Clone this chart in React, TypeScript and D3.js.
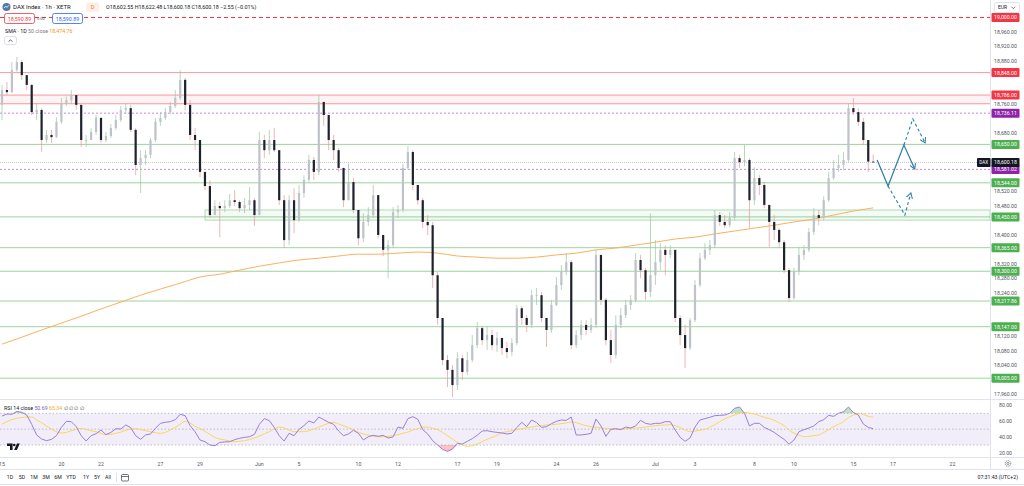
import * as d3 from "d3";

// ---- data (4 bars per trading day, open = previous close) ----
const firstOpen = 18759;

const closes = [
  18800, 18794, 18855, 18877, 18841, 18814, 18739, 18745, 18662, 18676, 18670, 18712,
  18764, 18772, 18786, 18759, 18662, 18662, 18684, 18723, 18662, 18673, 18695, 18717,
  18745, 18750, 18690, 18593, 18612, 18621, 18662, 18712, 18723, 18739, 18756, 18778,
  18828, 18759, 18676, 18662, 18574, 18535, 18455, 18480, 18474, 18480, 18496, 18491,
  18474, 18483, 18496, 18455, 18662, 18634, 18662, 18634, 18496, 18386, 18496, 18441,
  18516, 18552, 18607, 18574, 18767, 18731, 18662, 18634, 18585, 18496, 18546, 18469,
  18391, 18436, 18455, 18510, 18400, 18359, 18372, 18463, 18469, 18585, 18629, 18538,
  18496, 18436, 18427, 18289, 18171, 18055, 18028, 17986, 18060, 18022, 18055, 18096,
  18143, 18110, 18124, 18096, 18116, 18088, 18077, 18102, 18198, 18171, 18152, 18234,
  18234, 18171, 18138, 18207, 18262, 18298, 18325, 18096, 18124, 18152, 18138, 18152,
  18345, 18221, 18110, 18069, 18152, 18179, 18207, 18221, 18331, 18303, 18243, 18289,
  18325, 18359, 18345, 18359, 18171, 18124, 18088, 18165, 18262, 18336, 18359, 18372,
  18455, 18436, 18427, 18447, 18612, 18601, 18607, 18496, 18557, 18538, 18483, 18436,
  18414, 18380, 18303, 18226, 18298, 18345, 18359, 18408, 18455, 18447, 18496, 18557,
  18585, 18593, 18607, 18750, 18739, 18712, 18662, 18602.55, 18600.18,
];

const highs = [
  18814, 18822, 18877, 18891, 18883, 18841, 18816, 18764, 18750, 18690, 18690, 18725,
  18778, 18783, 18800, 18786, 18759, 18676, 18695, 18731, 18725, 18684, 18706, 18731,
  18756, 18764, 18759, 18695, 18634, 18634, 18668, 18723, 18739, 18750, 18767, 18800,
  18855, 18833, 18772, 18695, 18662, 18574, 18552, 18496, 18491, 18496, 18513, 18524,
  18496, 18502, 18532, 18502, 18684, 18676, 18690, 18695, 18634, 18510, 18510, 18529,
  18538, 18565, 18621, 18615, 18786, 18759, 18723, 18676, 18640, 18585, 18598, 18557,
  18455, 18460, 18477, 18538, 18510, 18400, 18386, 18477, 18483, 18596, 18645, 18634,
  18538, 18502, 18455, 18436, 18298, 18171, 18069, 18041, 18077, 18069, 18077, 18124,
  18160, 18149, 18146, 18138, 18132, 18116, 18105, 18116, 18207, 18204, 18179, 18248,
  18254, 18243, 18171, 18221, 18284, 18317, 18350, 18331, 18138, 18165, 18165, 18171,
  18359, 18345, 18226, 18138, 18179, 18198, 18221, 18234, 18350, 18345, 18309, 18460,
  18386, 18378, 18372, 18372, 18359, 18179, 18152, 18171, 18276, 18350, 18378, 18386,
  18469, 18463, 18455, 18463, 18629, 18621, 18648, 18612, 18587, 18565, 18546, 18483,
  18455, 18419, 18386, 18309, 18309, 18367, 18372, 18419, 18474, 18469, 18507, 18574,
  18607, 18621, 18629, 18764, 18778, 18750, 18723, 18662, 18622.48,
];

const lows = [
  18717, 18786, 18792, 18850, 18828, 18800, 18731, 18717, 18629, 18654, 18654, 18668,
  18706, 18756, 18761, 18745, 18643, 18643, 18662, 18676, 18654, 18656, 18668, 18690,
  18712, 18734, 18684, 18565, 18516, 18593, 18612, 18656, 18701, 18717, 18734, 18750,
  18772, 18745, 18662, 18634, 18560, 18524, 18447, 18455, 18394, 18463, 18474, 18480,
  18463, 18460, 18469, 18425, 18455, 18612, 18621, 18629, 18483, 18364, 18372, 18405,
  18436, 18502, 18546, 18552, 18565, 18701, 18634, 18607, 18574, 18477, 18496, 18460,
  18372, 18380, 18425, 18447, 18391, 18342, 18281, 18364, 18447, 18463, 18579, 18524,
  18483, 18419, 18400, 18254, 18152, 18041, 17980, 17953, 17972, 18000, 18014, 18049,
  18088, 18096, 18083, 18083, 18077, 18069, 18060, 18066, 18096, 18152, 18132, 18143,
  18207, 18160, 18091, 18130, 18204, 18248, 18289, 18085, 18088, 18110, 18124, 18130,
  18143, 18207, 18096, 18047, 18060, 18143, 18171, 18193, 18215, 18281, 18221, 18229,
  18262, 18303, 18289, 18336, 18160, 18096, 18033, 18083, 18160, 18256, 18331, 18345,
  18364, 18425, 18419, 18422, 18441, 18585, 18590, 18419, 18483, 18510, 18474, 18367,
  18386, 18364, 18295, 18215, 18221, 18289, 18331, 18353, 18400, 18427, 18441, 18491,
  18552, 18574, 18579, 18601, 18731, 18701, 18648, 18574, 18600.18,
];

// SMA 50 (daily) sampled at the first bar of each day
const smaDaily = [
  18099, 18118, 18138, 18157, 18176, 18196, 18215, 18234, 18251, 18267, 18284, 18292,
  18303, 18314, 18323, 18331, 18336, 18342, 18347, 18347, 18350, 18353, 18350, 18342,
  18339, 18336, 18336, 18339, 18345, 18350, 18359, 18364, 18372, 18380, 18389, 18394,
  18403, 18411, 18419, 18427, 18436, 18444, 18455, 18466, 18474.76,
];

const rsi = [
  66.6, 69.2, 68.8, 72.5, 71.3, 67.9, 56.2, 42.7, 37.6, 35.5,
  37.2, 41.8, 52.3, 59.9, 59.5, 53.2, 41.8, 35.1, 41.8, 44.3,
  49.0, 43.1, 46.0, 50.6, 50.2, 55.3, 52.0, 41.8, 37.2, 42.7,
  44.0, 51.1, 57.4, 58.7, 59.5, 62.0, 68.8, 67.1, 54.5, 46.8,
  36.4, 34.2, 30.1, 29.2, 33.4, 33.9, 34.2, 36.8, 38.5, 39.7,
  40.5, 43.5, 56.2, 63.4, 60.8, 52.3, 41.8, 35.1, 44.8, 41.8,
  49.8, 54.5, 60.4, 57.9, 65.4, 62.0, 58.7, 56.2, 47.7, 41.8,
  44.0, 48.6, 44.8, 36.4, 40.5, 42.3, 41.0, 42.3, 38.9, 40.2,
  52.7, 51.1, 63.4, 65.8, 62.5, 49.4, 44.0, 35.5, 30.1, 24.6,
  22.0, 25.0, 32.2, 31.3, 34.7, 38.1, 42.3, 47.7, 48.1, 46.8,
  46.0, 45.2, 44.0, 44.8, 52.0, 58.7, 53.2, 61.6, 58.3, 52.3,
  53.2, 57.0, 59.9, 61.6, 61.2, 65.4, 42.7, 42.7, 43.5, 44.8,
  62.9, 54.1, 41.0, 49.8, 50.6, 49.4, 52.7, 51.5, 54.1, 61.2,
  57.4, 56.2, 57.4, 57.4, 59.5, 59.5, 49.0, 39.7, 34.7, 38.9,
  52.7, 61.6, 63.4, 65.0, 67.1, 67.5, 67.9, 70.1, 76.4, 78.0,
  70.1, 54.1, 57.4, 57.4, 52.3, 49.4, 46.0, 41.4, 37.2, 31.0,
  36.4, 46.8, 49.4, 51.5, 54.1, 59.5, 62.0, 67.5, 66.2, 70.1,
  72.1, 78.0, 71.0, 67.9, 56.6, 52.3, 50.69,
];

const rsiMa = [
  56.4, 59.5, 62.0, 63.8, 64.6, 65.4, 65.4, 61.6, 58.3, 54.1,
  50.2, 46.8, 45.2, 46.0, 48.1, 49.8, 51.1, 49.8, 48.1, 46.8,
  44.8, 43.1, 43.5, 44.8, 46.4, 48.6, 50.2, 50.6, 49.4, 48.1,
  46.8, 45.6, 44.8, 46.0, 49.0, 52.3, 56.2, 59.9, 57.9, 53.7,
  51.1, 47.3, 43.5, 39.7, 37.6, 36.4, 35.1, 34.2, 34.7, 35.5,
  36.8, 38.9, 41.4, 44.0, 46.8, 50.2, 52.7, 51.5, 49.0, 46.8,
  46.8, 46.8, 48.1, 50.2, 52.7, 55.3, 57.4, 58.7, 56.6, 54.5,
  52.0, 49.4, 46.0, 44.0, 42.7, 41.0, 40.5, 40.5, 41.0, 41.8,
  43.1, 44.8, 46.4, 49.0, 50.6, 52.7, 52.7, 51.1, 49.4, 46.0,
  41.8, 37.6, 33.4, 30.1, 28.4, 29.2, 31.3, 34.2, 37.2, 39.7,
  42.3, 45.6, 46.8, 48.1, 49.4, 50.6, 52.0, 52.7, 53.7, 54.5,
  55.3, 55.7, 56.2, 57.0, 57.9, 59.1, 58.3, 56.2, 54.5, 53.2,
  52.3, 51.5, 51.1, 50.6, 50.2, 50.2, 50.6, 51.1, 51.5, 52.0,
  52.7, 53.7, 54.5, 54.9, 55.3, 55.7, 54.5, 52.0, 49.0, 46.8,
  47.7, 48.6, 49.8, 52.7, 55.7, 59.5, 62.9, 65.8, 67.9, 70.1,
  71.3, 70.6, 69.2, 67.1, 65.0, 63.4, 61.2, 57.9, 54.5, 49.0,
  44.8, 42.7, 40.5, 41.0, 41.8, 42.7, 46.0, 49.4, 53.2, 56.2,
  59.5, 64.6, 67.9, 69.7, 68.8, 66.2, 65.34,
];

const BARS_PER_DAY = 4;
const dayTicks = [0, 3, 5, 8, 10, 13, 15, 18, 20, 23, 25, 28, 30, 33, 35, 38, 40, 43, 45, 48, 50];
const dayLabels = ["15", "20", "22", "27", "29", "Jun", "5", "10", "12", "17", "19", "24", "26", "Jul", "3", "8", "10", "15", "17", "22", "24"];

const priceTicks = [
  17960, 18000, 18040, 18080, 18120, 18160, 18200, 18240, 18280, 18320, 18360, 18400, 18440,
  18480, 18520, 18560, 18600, 18640, 18680, 18720, 18760, 18800, 18840, 18880, 18920, 18960,
];
const rsiTicks = [80, 60, 40, 20];
const rsiBands = [70, 50, 30];

const dashedTop = 19000;
const redLevels = [18848, 18786, 18762];
const redZone = [18762, 18786];
const greenLevels = [18650, 18544, 18450, 18365, 18300, 18217.86, 18147, 18005];
const greenZone = [18441, 18469];
const greenZoneStartBar = 41;
const purpleLevels = [18736.11, 18581.02];
const lastPrice = 18600.18;

const RED = "#f23645";
const GREEN = "#4caf50";
const PURPLE = "#8e24aa";
const axisLabels = [
  { v: 19000, c: RED },
  { v: 18848, c: RED },
  { v: 18786, c: RED },
  { v: 18736.11, c: PURPLE },
  { v: 18650, c: GREEN },
  { v: 18581.02, c: PURPLE },
  { v: 18544, c: GREEN },
  { v: 18450, c: GREEN },
  { v: 18365, c: GREEN },
  { v: 18300, c: GREEN },
  { v: 18217.86, c: GREEN },
  { v: 18147, c: GREEN },
  { v: 18005, c: GREEN },
];

// projection sketch: [bar index, price]
const pathMain: [number, number][] = [[176.8, 18607], [179.0, 18535], [182.2, 18648], [184.4, 18582]];
const pathUp: [number, number][] = [[182.2, 18648], [184.0, 18720], [186.5, 18654]];
const pathDown: [number, number][] = [[179.0, 18535], [182.4, 18455], [183.6, 18516]];

const toolbar = ["1D", "5D", "1M", "3M", "6M", "YTD", "1Y", "5Y", "All"];
const toolbarX = [10, 22, 34, 46, 58, 71, 86, 97, 108];

const FONT = "Roboto, 'Liberation Sans', Arial, sans-serif";
const PLOT_R = 990;

export default function App() {
  const x = d3.scaleLinear().domain([0, 176]).range([2, 2 + 4.95 * 176]);
  const y = d3.scaleLinear().domain([17960, 18960]).range([394.5, 32]);
  const yr = d3.scaleLinear().domain([20, 80]).range([452.96, 405.44]);
  const fmt = d3.format(",.2f");

  const smaLine = d3
    .line<number>()
    .x((_, d) => x(d * BARS_PER_DAY))
    .y((v) => y(v))
    .curve(d3.curveMonotoneX);

  const rsiLine = d3.line<number>().x((_, i) => x(i)).y((v) => yr(v));
  const maLine = d3.line<number>().x((_, i) => x(i)).y((v) => yr(v)).curve(d3.curveMonotoneX);
  const obArea = d3
    .area<number>()
    .x((_, i) => x(i))
    .y0(yr(70))
    .y1((v) => yr(Math.max(v, 70)));
  const osArea = d3
    .area<number>()
    .x((_, i) => x(i))
    .y0(yr(30))
    .y1((v) => yr(Math.min(v, 30)));

  const proj = d3
    .line<[number, number]>()
    .x((d) => x(d[0]))
    .y((d) => y(d[1]));

  const labelYs = axisLabels.map((l) => y(l.v)).concat([y(lastPrice)]);
  const visibleTicks = priceTicks.filter((t) => labelYs.every((ly) => Math.abs(ly - y(t)) > 7));

  const candles = closes.map((c, i) => {
    const o = i === 0 ? firstOpen : closes[i - 1];
    const hi = Math.max(highs[i], o, c);
    const lo = Math.min(lows[i], o, c);
    const up = c >= o;
    const top = y(Math.max(o, c));
    const h = Math.max(0.8, Math.abs(y(o) - y(c)));
    return (
      <g key={i}>
        <line
          x1={x(i)}
          x2={x(i)}
          y1={y(hi)}
          y2={y(lo)}
          stroke={up ? "#93c99d" : "#e8959b"}
          strokeWidth={0.7}
        />
        <rect x={x(i) - 1.1} y={top} width={2.2} height={h} fill={up ? "#bfc2c9" : "#1e222d"} />
      </g>
    );
  });

  return (
    <div style={{ position: "fixed", left: 0, top: 0 }}>
      <svg width={1024} height={486} style={{ display: "block", background: "#fff", fontFamily: FONT }}>
        <defs>
          <clipPath id="pane">
            <rect x={0} y={0} width={PLOT_R} height={399} />
          </clipPath>
          <clipPath id="rsipane">
            <rect x={0} y={400} width={PLOT_R} height={57} />
          </clipPath>
          <clipPath id="timeaxis">
            <rect x={0} y={458} width={PLOT_R - 2} height={11} />
          </clipPath>
          <marker id="arr" viewBox="0 0 8 8" refX={6} refY={4} markerWidth={7} markerHeight={7} markerUnits="userSpaceOnUse" orient="auto">
            <path d="M0,0.5 L6,4 L0,7.5" fill="none" stroke="#2f7fa0" strokeWidth={1.2} />
          </marker>
        </defs>

        {/* price pane */}
        <g clipPath="url(#pane)">
          <rect x={0} y={y(redZone[1])} width={PLOT_R} height={y(redZone[0]) - y(redZone[1])} fill={RED} opacity={0.06} />
          <rect
            x={x(greenZoneStartBar)}
            y={y(greenZone[1])}
            width={PLOT_R - x(greenZoneStartBar)}
            height={y(greenZone[0]) - y(greenZone[1])}
            fill={GREEN}
            fillOpacity={0.06}
            stroke={GREEN}
            strokeOpacity={0.5}
            strokeWidth={0.8}
          />
          <line x1={0} x2={PLOT_R} y1={y(dashedTop)} y2={y(dashedTop)} stroke={RED} strokeDasharray="4,3" strokeWidth={1} />
          {redLevels.map((v) => (
            <line key={v} x1={0} x2={PLOT_R} y1={y(v)} y2={y(v)} stroke={RED} strokeOpacity={0.5} strokeWidth={1} />
          ))}
          {greenLevels.map((v) => (
            <line key={v} x1={0} x2={PLOT_R} y1={y(v)} y2={y(v)} stroke={GREEN} strokeOpacity={0.55} strokeWidth={1} />
          ))}
          {purpleLevels.map((v) => (
            <line key={v} x1={0} x2={PLOT_R} y1={y(v)} y2={y(v)} stroke="#9c27b0" strokeOpacity={0.6} strokeDasharray="2,2" strokeWidth={0.9} />
          ))}
          <line x1={0} x2={PLOT_R} y1={y(lastPrice)} y2={y(lastPrice)} stroke="#9598a1" strokeOpacity={0.6} strokeDasharray="1,1" strokeWidth={0.9} />

          <path d={smaLine(smaDaily) || ""} fill="none" stroke="#fbb15e" strokeWidth={1} />
          {candles}

          <path d={proj(pathMain) || ""} fill="none" stroke="#2f7fa0" strokeWidth={1.2} markerEnd="url(#arr)" />
          <path d={proj(pathUp) || ""} fill="none" stroke="#2f7fa0" strokeWidth={1.1} strokeDasharray="3,2.5" markerEnd="url(#arr)" />
          <path d={proj(pathDown) || ""} fill="none" stroke="#2f7fa0" strokeWidth={1.1} strokeDasharray="3,2.5" markerEnd="url(#arr)" />
        </g>

        {/* header / legend */}
        <circle cx={6.5} cy={7} r={4} fill="#4f7aa8" />
        <path d="M4.2,8 L5.8,6 L7,7.4 L8.8,5.4" fill="none" stroke="#fff" strokeWidth={0.8} />
        <text x={13} y={9.3} fontSize={6} fill="#131722">DAX Index · 1h · XETR</text>
        <rect x={86} y={2.5} width={13} height={9.5} rx={2} fill="#fdeee8" />
        <text x={92.5} y={9.3} fontSize={5.5} fill="#f57c00" textAnchor="middle">D</text>
        <text x={106} y={9.3} fontSize={5.4} fill="#131722">
          O18,602.55  H18,622.48  L18,600.18  C18,600.18  −2.55 (−0.01%)
        </text>
        <rect x={4.5} y={13.5} width={30} height={10} rx={2} fill="#fff" stroke={RED} strokeWidth={0.8} />
        <text x={19.5} y={20.6} fontSize={5.3} fill={RED} textAnchor="middle">18,590.89</text>
        <text x={37} y={20.2} fontSize={4} fill="#50535e">0.00</text>
        <rect x={52.5} y={13.5} width={30} height={10} rx={2} fill="#fff" stroke="#2962ff" strokeWidth={0.8} />
        <text x={67.5} y={20.6} fontSize={5.3} fill="#2962ff" textAnchor="middle">18,590.89</text>
        <text x={5} y={32.5} fontSize={5.3} fill="#131722">
          SMA · 1D <tspan fill="#787b86">50 close</tspan> <tspan fill="#f7931e">18,474.76</tspan>
        </text>
        <rect x={4.5} y={36.5} width={12} height={8} rx={2} fill="#fff" stroke="#d1d4dc" strokeWidth={0.7} />
        <path d="M8.6,41.7 L10.5,39.8 L12.4,41.7" fill="none" stroke="#131722" strokeWidth={0.7} />

        {/* RSI pane */}
        <rect x={0} y={yr(70)} width={PLOT_R} height={yr(30) - yr(70)} fill="#7e57c2" opacity={0.1} />
        {rsiBands.map((v) => (
          <line key={v} x1={0} x2={PLOT_R} y1={yr(v)} y2={yr(v)} stroke="#787b86" strokeOpacity={0.55} strokeDasharray="1.5,2" strokeWidth={0.8} />
        ))}
        <g clipPath="url(#rsipane)">
          <path d={obArea(rsi) || ""} fill={GREEN} opacity={0.35} />
          <path d={osArea(rsi) || ""} fill={RED} opacity={0.3} />
          <path d={maLine(rsiMa) || ""} fill="none" stroke="#fbd34d" strokeWidth={0.9} />
          <path d={rsiLine(rsi) || ""} fill="none" stroke="#9a7fd6" strokeWidth={1} />
        </g>
        <text x={4} y={410} fontSize={5.3} fill="#131722">
          RSI 14 close <tspan fill="#7e57c2">50.69</tspan> <tspan fill="#f9a825">65.34</tspan>{" "}
          <tspan fill="#50535e">∅ ∅ ∅ ∅</tspan>
        </text>
        <path d="M7,443.5 h5.6 v6.5 h-2.6 v-3.9 h-3z" fill="#131722" />
        <circle cx={14.2} cy={445} r={1.3} fill="#131722" />
        <path d="M17,443.5 h2.8 l-2.9,6.5 h-2.8z" fill="#131722" />

        {/* panel separators */}
        <line x1={0} x2={1024} y1={399.5} y2={399.5} stroke="#e0e3eb" />
        <line x1={0} x2={1024} y1={457.5} y2={457.5} stroke="#e0e3eb" />
        <line x1={0} x2={1024} y1={469.5} y2={469.5} stroke="#e0e3eb" />
        <line x1={0} x2={1024} y1={484.5} y2={484.5} stroke="#e0e3eb" />
        <line x1={PLOT_R + 0.5} x2={PLOT_R + 0.5} y1={0} y2={469} stroke="#e0e3eb" />

        {/* price axis */}
        {visibleTicks.map((t) => (
          <text key={t} x={1005.5} y={y(t) + 1.9} fontSize={5.2} fill="#50535e" textAnchor="middle">
            {fmt(t)}
          </text>
        ))}
        {axisLabels.map((l) => (
          <g key={l.v}>
            <rect x={991.5} y={y(l.v) - 4.5} width={28} height={9} rx={1} fill={l.c} />
            <text x={1005.5} y={y(l.v) + 1.9} fontSize={5.2} fill="#fff" textAnchor="middle">
              {fmt(l.v)}
            </text>
          </g>
        ))}
        <rect x={977} y={y(lastPrice) - 4.5} width={13.5} height={9} rx={1} fill="#131722" />
        <text x={983.7} y={y(lastPrice) + 1.8} fontSize={4.6} fill="#fff" textAnchor="middle">DAX</text>
        <rect x={991.5} y={y(lastPrice) - 4.5} width={28} height={9} rx={1} fill="#131722" />
        <text x={1005.5} y={y(lastPrice) + 1.9} fontSize={5.2} fill="#fff" textAnchor="middle">
          {fmt(lastPrice)}
        </text>
        <rect x={994.5} y={2.5} width={25} height={10} rx={2} fill="#fff" stroke="#d1d4dc" strokeWidth={0.7} />
        <text x={998} y={9.4} fontSize={5} fill="#131722">EUR</text>
        <path d="M1011.5,6.8 L1013.3,8.6 L1015.1,6.8" fill="none" stroke="#131722" strokeWidth={0.6} />

        {/* RSI axis */}
        {rsiTicks.map((t) => (
          <text key={t} x={1005.5} y={yr(t) + 1.9} fontSize={5.2} fill="#50535e" textAnchor="middle">
            {fmt(t)}
          </text>
        ))}

        {/* time axis */}
        <g clipPath="url(#timeaxis)">
          {dayTicks.map((d, k) => (
            <text key={d} x={x(d * BARS_PER_DAY)} y={465.5} fontSize={5.2} fill="#50535e" textAnchor="middle">
              {dayLabels[k]}
            </text>
          ))}
        </g>
        <circle cx={1008} cy={463.5} r={2.8} fill="none" stroke="#50535e" strokeWidth={0.7} strokeDasharray="1.1,0.7" />
        <circle cx={1008} cy={463.5} r={1.1} fill="none" stroke="#50535e" strokeWidth={0.6} />

        {/* bottom toolbar */}
        {toolbar.map((t, k) => (
          <text key={t} x={toolbarX[k]} y={479.3} fontSize={5.2} fill="#131722" textAnchor="middle">
            {t}
          </text>
        ))}
        <line x1={116.5} x2={116.5} y1={473} y2={482} stroke="#e0e3eb" />
        <rect x={121.5} y={474.5} width={7} height={6.5} rx={1} fill="none" stroke="#131722" strokeWidth={0.6} />
        <line x1={121.5} x2={128.5} y1={476.5} y2={476.5} stroke="#131722" strokeWidth={0.6} />
        <text x={1018} y={479.3} fontSize={5.2} fill="#131722" textAnchor="end">07:31:43 (UTC+2)</text>
      </svg>
    </div>
  );
}
